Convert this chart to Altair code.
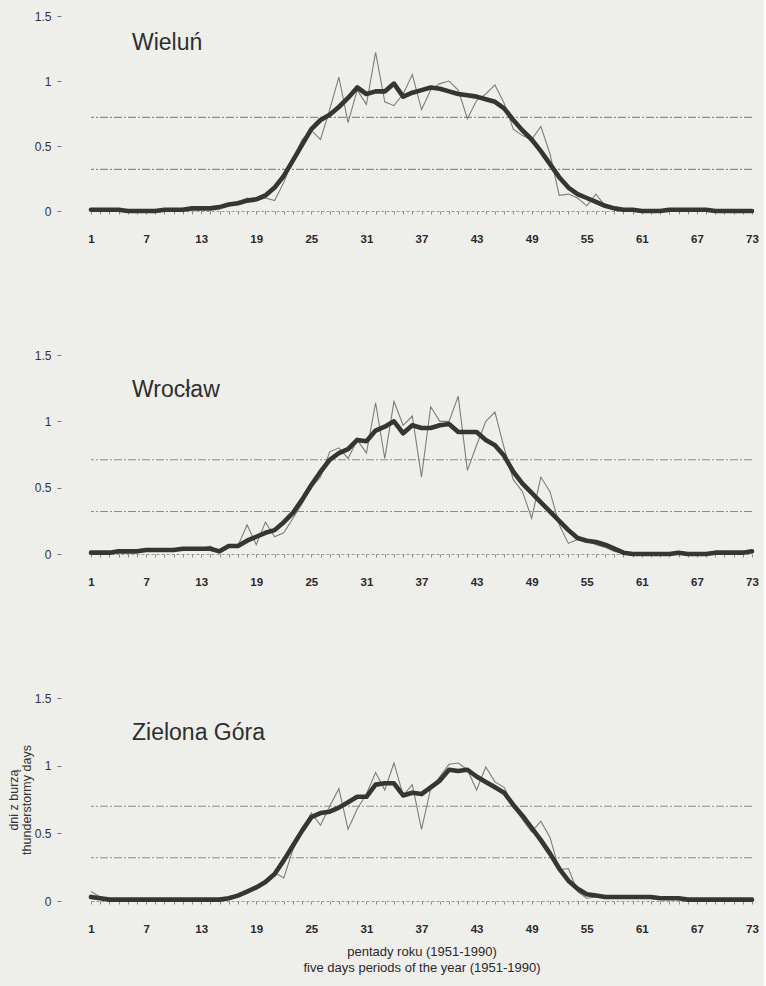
import altair as alt
import pandas as pd

FONT = "Liberation Sans"

# pentads of the year (five-day periods)
pentads = list(range(1, 74))

# mean number of thunderstorm days per pentad, 1951-1990
wielun_raw = [
    0.01, 0.00, 0.01, 0.00, 0.00, 0.01, 0.00, 0.00, 0.01, 0.02,
    0.01, 0.02, 0.03, 0.02, 0.03, 0.05, 0.07, 0.10, 0.08, 0.10,
    0.08, 0.22, 0.40, 0.55, 0.62, 0.55, 0.78, 1.03, 0.68, 0.93,
    0.82, 1.22, 0.84, 0.81, 0.90, 1.05, 0.78, 0.93, 0.98, 1.00,
    0.93, 0.71, 0.85, 0.90, 0.97, 0.83, 0.63, 0.58, 0.55, 0.65,
    0.44, 0.12, 0.13, 0.10, 0.04, 0.13, 0.04, 0.01, 0.00, 0.01,
    0.00, 0.00, 0.01, 0.00, 0.01, 0.01, 0.00, 0.01, 0.00, 0.01,
    0.00, 0.01, 0.00,
]
wielun_smooth = [
    0.01, 0.01, 0.01, 0.01, 0.00, 0.00, 0.00, 0.00, 0.01, 0.01,
    0.01, 0.02, 0.02, 0.02, 0.03, 0.05, 0.06, 0.08, 0.09, 0.12,
    0.18, 0.27, 0.39, 0.51, 0.63, 0.70, 0.74, 0.80, 0.87, 0.95,
    0.90, 0.92, 0.92, 0.98, 0.88, 0.91, 0.93, 0.95, 0.94, 0.92,
    0.90, 0.89, 0.88, 0.86, 0.84, 0.79, 0.70, 0.62, 0.55, 0.46,
    0.36, 0.26, 0.18, 0.13, 0.10, 0.07, 0.04, 0.02, 0.01, 0.01,
    0.00, 0.00, 0.00, 0.01, 0.01, 0.01, 0.01, 0.01, 0.00, 0.00,
    0.00, 0.00, 0.00,
]

wroclaw_raw = [
    0.01, 0.01, 0.02, 0.01, 0.02, 0.03, 0.02, 0.03, 0.03, 0.02,
    0.04, 0.03, 0.04, 0.06, 0.01, 0.05, 0.06, 0.22, 0.07, 0.24,
    0.13, 0.16, 0.27, 0.38, 0.50, 0.58, 0.77, 0.80, 0.72, 0.86,
    0.76, 1.14, 0.72, 1.15, 0.97, 1.04, 0.58, 1.11, 1.00, 1.00,
    1.19, 0.63, 0.82, 1.00, 1.07, 0.80, 0.56, 0.47, 0.27, 0.58,
    0.47, 0.22, 0.08, 0.11, 0.10, 0.07, 0.05, 0.02, 0.01, 0.00,
    0.01, 0.00, 0.00, 0.01, 0.00, 0.01, 0.00, 0.00, 0.01, 0.01,
    0.02, 0.01, 0.02,
]
wroclaw_smooth = [
    0.01, 0.01, 0.01, 0.02, 0.02, 0.02, 0.03, 0.03, 0.03, 0.03,
    0.04, 0.04, 0.04, 0.04, 0.02, 0.06, 0.06, 0.10, 0.13, 0.16,
    0.18, 0.24, 0.31, 0.41, 0.52, 0.62, 0.71, 0.76, 0.79, 0.86,
    0.85, 0.93, 0.96, 1.00, 0.91, 0.97, 0.95, 0.95, 0.97, 0.98,
    0.92, 0.92, 0.92, 0.86, 0.82, 0.74, 0.62, 0.53, 0.46, 0.39,
    0.32, 0.25, 0.18, 0.12, 0.10, 0.09, 0.07, 0.04, 0.01, 0.00,
    0.00, 0.00, 0.00, 0.00, 0.01, 0.00, 0.00, 0.00, 0.01, 0.01,
    0.01, 0.01, 0.02,
]

zgora_raw = [
    0.07, 0.03, 0.01, 0.01, 0.01, 0.00, 0.01, 0.01, 0.01, 0.01,
    0.01, 0.01, 0.01, 0.01, 0.01, 0.02, 0.04, 0.07, 0.10, 0.13,
    0.21, 0.17, 0.38, 0.52, 0.65, 0.56, 0.70, 0.83, 0.53, 0.68,
    0.79, 0.95, 0.82, 1.02, 0.78, 0.86, 0.53, 0.83, 0.92, 1.01,
    1.02, 0.97, 0.82, 0.99, 0.88, 0.84, 0.70, 0.60, 0.51, 0.59,
    0.47, 0.23, 0.24, 0.07, 0.02, 0.03, 0.03, 0.03, 0.02, 0.03,
    0.02, 0.03, 0.02, 0.02, 0.01, 0.01, 0.02, 0.01, 0.01, 0.02,
    0.01, 0.01, 0.01,
]
zgora_smooth = [
    0.03, 0.02, 0.01, 0.01, 0.01, 0.01, 0.01, 0.01, 0.01, 0.01,
    0.01, 0.01, 0.01, 0.01, 0.01, 0.02, 0.04, 0.07, 0.10, 0.14,
    0.20, 0.30, 0.41, 0.52, 0.62, 0.65, 0.66, 0.69, 0.73, 0.77,
    0.77, 0.86, 0.87, 0.87, 0.78, 0.80, 0.79, 0.84, 0.89, 0.97,
    0.96, 0.97, 0.92, 0.88, 0.84, 0.80, 0.71, 0.63, 0.54, 0.45,
    0.35, 0.24, 0.15, 0.09, 0.05, 0.04, 0.03, 0.03, 0.03, 0.03,
    0.03, 0.03, 0.02, 0.02, 0.02, 0.01, 0.01, 0.01, 0.01, 0.01,
    0.01, 0.01, 0.01,
]

# reference levels drawn as dashed horizontal lines
wielun_levels = [0.72, 0.32]
wroclaw_levels = [0.71, 0.32]
zgora_levels = [0.70, 0.32]

y_ticks = [0, 0.5, 1, 1.5]

PLOT_W = 661


def panel(name, raw, smooth, levels, height, name_y, last):
    df = pd.DataFrame({"pentada": pentads, "raw": raw, "smooth": smooth})
    xscale = alt.Scale(domain=[1, 73], nice=False, zero=False)
    yscale = alt.Scale(domain=[0, 1.5], nice=False)

    x_axis = alt.Axis(
        values=pentads,
        labelExpr="(datum.value - 1) % 6 == 0 ? datum.value : ''",
        labelOverlap=False,
        labelFlush=False,
        tickSize=3,
        tickColor="#8a8a8a",
        domainColor="#9a9a9a",
        domainDash=[3, 2],
        labelPadding=19,
        labelFontSize=11.5,
        labelFontWeight="bold",
        labelColor="#2a2a2a",
        labelFont=FONT,
        grid=False,
        title=["pentady roku (1951-1990)", "five days periods of the year (1951-1990)"] if last else None,
        titleFont=FONT,
        titleFontSize=13,
        titleFontWeight="normal",
        titleColor="#2a2a2a",
        titlePadding=11,
        titleLineHeight=16,
    )
    y_axis = alt.Axis(
        values=y_ticks,
        format="~g",
        offset=30,
        tickSize=4,
        tickColor="#777777",
        domain=False,
        grid=False,
        labelPadding=6,
        labelFontSize=12,
        labelColor="#333333",
        labelFont=FONT,
        title=["dni z burzą", "thunderstormy days"] if last else None,
        titleFont=FONT,
        titleFontSize=12.5,
        titleFontWeight="normal",
        titleColor="#333333",
        titlePadding=1,
        titleLineHeight=13,
    )

    x_enc = alt.X("pentada:Q", scale=xscale, axis=x_axis)

    rules = alt.Chart(pd.DataFrame({"level": levels})).mark_rule(
        color="#8c8c8c", strokeWidth=1.1, strokeDash=[8, 2, 2, 2]
    ).encode(y=alt.Y("level:Q", scale=yscale, axis=y_axis))

    thin = alt.Chart(df).mark_line(color="#7d7d7d", strokeWidth=1.1).encode(
        x=x_enc,
        y=alt.Y("raw:Q", scale=yscale, axis=y_axis),
    )
    thick = alt.Chart(df).mark_line(
        color="#353535", strokeWidth=4.6, strokeJoin="round", strokeCap="round"
    ).encode(
        x=x_enc,
        y=alt.Y("smooth:Q", scale=yscale, axis=y_axis),
    )
    label = alt.Chart(pd.DataFrame({"station": [name]})).mark_text(
        align="left", baseline="middle", fontSize=23, font=FONT, color="#2e2e2e"
    ).encode(x=alt.value(41), y=alt.value(name_y), text="station:N")

    return alt.layer(rules, thin, thick, label).properties(width=PLOT_W, height=height)


p1 = panel("Wieluń", wielun_raw, wielun_smooth, wielun_levels, 195, 27, False)
p2 = panel("Wrocław", wroclaw_raw, wroclaw_smooth, wroclaw_levels, 199, 35, False)
p3 = panel("Zielona Góra", zgora_raw, zgora_smooth, zgora_levels, 203, 35, True)

chart = (
    alt.vconcat(p1, p2, p3, spacing=104)
    .properties(padding={"left": 7, "top": 10, "right": 5, "bottom": 15}, background="#eeeeea")
    .configure_view(strokeWidth=0)
)

chart.save("out.html", embed_options={"renderer": "svg", "actions": False})
